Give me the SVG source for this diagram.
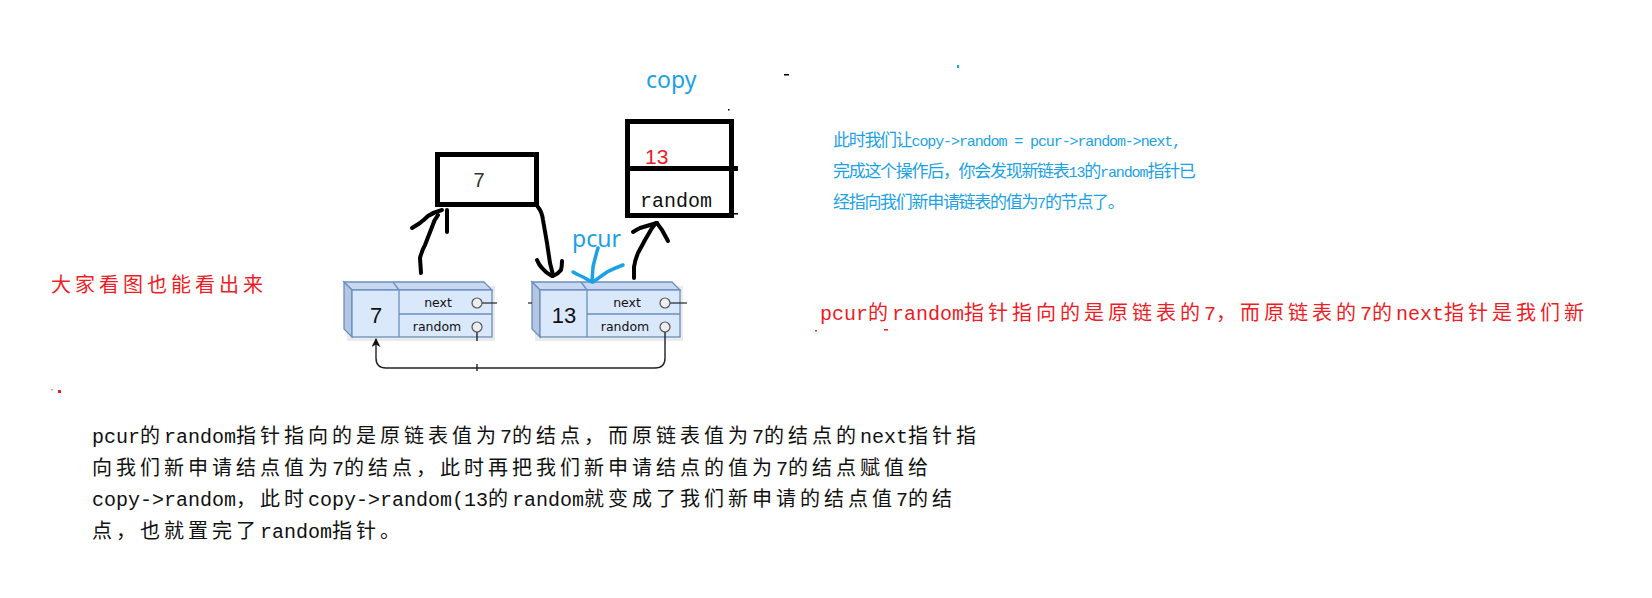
<svg xmlns="http://www.w3.org/2000/svg" width="1652" height="598" viewBox="0 0 1652 598">
<style>
.p{font-family:"Liberation Mono","Noto Sans CJK SC",monospace;font-size:20px}
.c{letter-spacing:4px}
.pb{font-family:"Liberation Mono","Noto Sans CJK SC",monospace;font-size:15px;letter-spacing:-1.1px}
.cb{font-size:17px;letter-spacing:-1.3px}
.blue{fill:#1ba1e6}
.red{fill:#ee1c25}
.blk{fill:#111}
.lbl{font-family:"Noto Sans","Liberation Sans",sans-serif;font-size:23px;fill:#1ba1e6}
.hand{fill:none;stroke:#000;stroke-width:4;stroke-linecap:round;stroke-linejoin:round}
.handb{fill:none;stroke:#1ba1e6;stroke-width:3.5;stroke-linecap:round;stroke-linejoin:round}
.box{fill:none;stroke:#000;stroke-width:5}
.front{fill:#dae8fc;stroke:#6c8ebf;stroke-width:1.3}
.top{fill:#c8d8f0;stroke:#6c8ebf;stroke-width:1.3}
.side{fill:#b3c6e2;stroke:#6c8ebf;stroke-width:1.3}
.circ{fill:#eeeeee;stroke:#555;stroke-width:1.2}
.nt{font-family:"DejaVu Sans","Liberation Sans",sans-serif;font-size:12.5px;fill:#111;text-anchor:middle}
.nv{font-family:"Liberation Sans",sans-serif;font-size:22px;fill:#111;text-anchor:middle}
.thin{fill:none;stroke:#222;stroke-width:1.4}
</style>
<defs>
<marker id="ah" viewBox="0 0 10 10" refX="9" refY="5" markerWidth="9" markerHeight="9" orient="auto-start-reverse" markerUnits="userSpaceOnUse">
<path d="M0,0 L10,5 L0,10 L3,5 Z" fill="#111"/>
</marker>
</defs>
<rect width="1652" height="598" fill="#fff"/>

<g id="box7">
<rect class="box" x="437.5" y="154.5" width="99" height="50"/>
<text x="479" y="187" style="font-family:'Liberation Sans',sans-serif;font-size:20px;fill:#333" text-anchor="middle">7</text>
</g>

<g id="copy">
<text class="lbl" x="646" y="88">copy</text>
<rect class="box" x="627.5" y="121.5" width="104" height="94"/>
<line x1="625" y1="168.5" x2="738" y2="168.5" stroke="#000" stroke-width="5"/>
<text x="645" y="164" style="font-family:'Liberation Sans',sans-serif;font-size:21px;fill:#ee1c25">13</text>
<text x="640" y="207" style="font-family:'Liberation Mono',monospace;font-size:20px;fill:#111">random</text>
</g>

<g id="node7">
<polygon points="347,286 495,286 495,341 347,341" fill="#d8d8d8" opacity="0.5"/>
<polygon class="top" points="344,282 484,282 492,290 352,290"/>
<polygon class="side" points="344,282 352,290 352,337 344,329"/>
<rect class="front" x="352" y="290" width="140" height="47"/>
<line x1="393" y1="282" x2="399" y2="290" stroke="#6c8ebf" stroke-width="1.3"/>
<line x1="399" y1="290" x2="399" y2="337" stroke="#6c8ebf" stroke-width="1.3"/>
<line x1="399" y1="314" x2="492" y2="314" stroke="#6c8ebf" stroke-width="1.3"/>
<text class="nv" x="376" y="323">7</text>
<text class="nt" x="438" y="307">next</text>
<text class="nt" x="437" y="331">random</text>
<line x1="482" y1="303" x2="497" y2="303" stroke="#222" stroke-width="1.2"/>
<line x1="477" y1="332" x2="477" y2="341" stroke="#222" stroke-width="1.4"/>
<circle class="circ" cx="477" cy="303" r="5"/>
<circle class="circ" cx="477" cy="327" r="5"/>
</g>

<g id="node13">
<polygon points="535,286 683,286 683,341 535,341" fill="#d8d8d8" opacity="0.5"/>
<polygon class="top" points="532,282 672,282 680,290 540,290"/>
<polygon class="side" points="532,282 540,290 540,337 532,329"/>
<rect class="front" x="540" y="290" width="140" height="47"/>
<line x1="581" y1="282" x2="587" y2="290" stroke="#6c8ebf" stroke-width="1.3"/>
<line x1="587" y1="290" x2="587" y2="337" stroke="#6c8ebf" stroke-width="1.3"/>
<line x1="587" y1="314" x2="680" y2="314" stroke="#6c8ebf" stroke-width="1.3"/>
<text class="nv" x="564" y="323">13</text>
<text class="nt" x="627" y="307">next</text>
<text class="nt" x="625" y="331">random</text>
<line x1="670" y1="303" x2="687" y2="303" stroke="#222" stroke-width="1.2"/>
<circle class="circ" cx="665" cy="303" r="5"/>
<circle class="circ" cx="665" cy="327" r="5"/>
</g>

<g id="connectors">
<path class="thin" d="M665,332 L665,358 Q665,368 655,368 L386,368 Q376,368 376,358 L376,339" marker-end="url(#ah)"/>
<line x1="477" y1="364" x2="477" y2="371" stroke="#222" stroke-width="1.4"/>
<line x1="528" y1="303" x2="532" y2="303" stroke="#222" stroke-width="1.2"/>
<path class="hand" d="M421,273 L420,258 Q422,250 425,245 L432,227 Q434,220 438,215"/>
<path class="hand" d="M412,228 Q417,225 420,223 Q425,219 428,216 Q434,212 442,210"/>
<path class="hand" d="M447,210 L447,232"/>
<path class="hand" d="M538,207 Q542,212 543,220 L547,243 L550,263 L553,275"/>
<path class="hand" d="M537,260 Q539,265 542,268 Q546,273 552,276"/>
<path class="hand" d="M562,261 Q562,266 561,270 Q558,274 553,276"/>
<path class="hand" d="M634,278 L634,267 Q635,260 638,253 L645,240 L652,228 L656,223"/>
<path class="hand" d="M633,232 Q636,230 640,228 L650,225 L657,223"/>
<path class="hand" d="M657,223 Q659,226 662,230 L668,241"/>
<path class="handb" d="M598,248 Q595,258 593,267 L592,281"/>
<path class="handb" d="M573,272 Q578,275 583,277 L592,282"/>
<path class="handb" d="M623,265 Q615,268 607,272 L593,282"/>
</g>

<g id="pcur">
<text class="lbl" x="572" y="247">pcur</text>
</g>

<g id="blueText">
<text class="pb blue" x="833" y="146"><tspan class="cb">此时我们让</tspan>copy-&gt;random = pcur-&gt;random-&gt;next,</text>
<text class="pb blue" x="833" y="177"><tspan class="cb">完成这个操作后，你会发现新链表</tspan>13<tspan class="cb">的</tspan>random<tspan class="cb">指针已</tspan></text>
<text class="pb blue" x="833" y="208"><tspan class="cb">经指向我们新申请链表的值为</tspan>7<tspan class="cb">的节点了。</tspan></text>
</g>

<g id="redLeft">
<text class="p red" x="51" y="292"><tspan class="c">大家看图也能看出来</tspan></text>
</g>

<g id="redRight">
<text class="p red" x="820" y="320">pcur<tspan class="c">的</tspan>random<tspan class="c">指针指向的是原链表的</tspan>7<tspan class="c">，而原链表的</tspan>7<tspan class="c">的</tspan>next<tspan class="c">指针是我们新</tspan></text>
</g>

<g id="bottomText">
<text class="p blk" x="92" y="443">pcur<tspan class="c">的</tspan>random<tspan class="c">指针指向的是原链表值为</tspan>7<tspan class="c">的结点，而原链表值为</tspan>7<tspan class="c">的结点的</tspan>next<tspan class="c">指针指</tspan></text>
<text class="p blk" x="92" y="475"><tspan class="c">向我们新申请结点值为</tspan>7<tspan class="c">的结点，此时再把我们新申请结点的值为</tspan>7<tspan class="c">的结点赋值给</tspan></text>
<text class="p blk" x="92" y="506">copy-&gt;random<tspan class="c">，此时</tspan>copy-&gt;random(13<tspan class="c">的</tspan>random<tspan class="c">就变成了我们新申请的结点值</tspan>7<tspan class="c">的结</tspan></text>
<text class="p blk" x="92" y="538"><tspan class="c">点，也就置完了</tspan>random<tspan class="c">指针。</tspan></text>
</g>

<g id="specks">
<rect x="58" y="390" width="3" height="3" fill="#ee1c25"/>
<rect x="51" y="389" width="2" height="1.5" fill="#f5a0a5"/>
<rect x="815" y="330" width="2" height="1.5" fill="#ee1c25"/>
<rect x="884" y="329" width="4" height="1.5" fill="#ee1c25"/>
<rect x="784" y="74" width="5" height="1.5" fill="#000"/>
<rect x="957" y="65" width="2" height="3" fill="#1ba1e6"/>
<rect x="728" y="109" width="1.5" height="1.5" fill="#000"/>
<rect x="733" y="213" width="5" height="1.5" fill="#000"/>
</g>
</svg>
